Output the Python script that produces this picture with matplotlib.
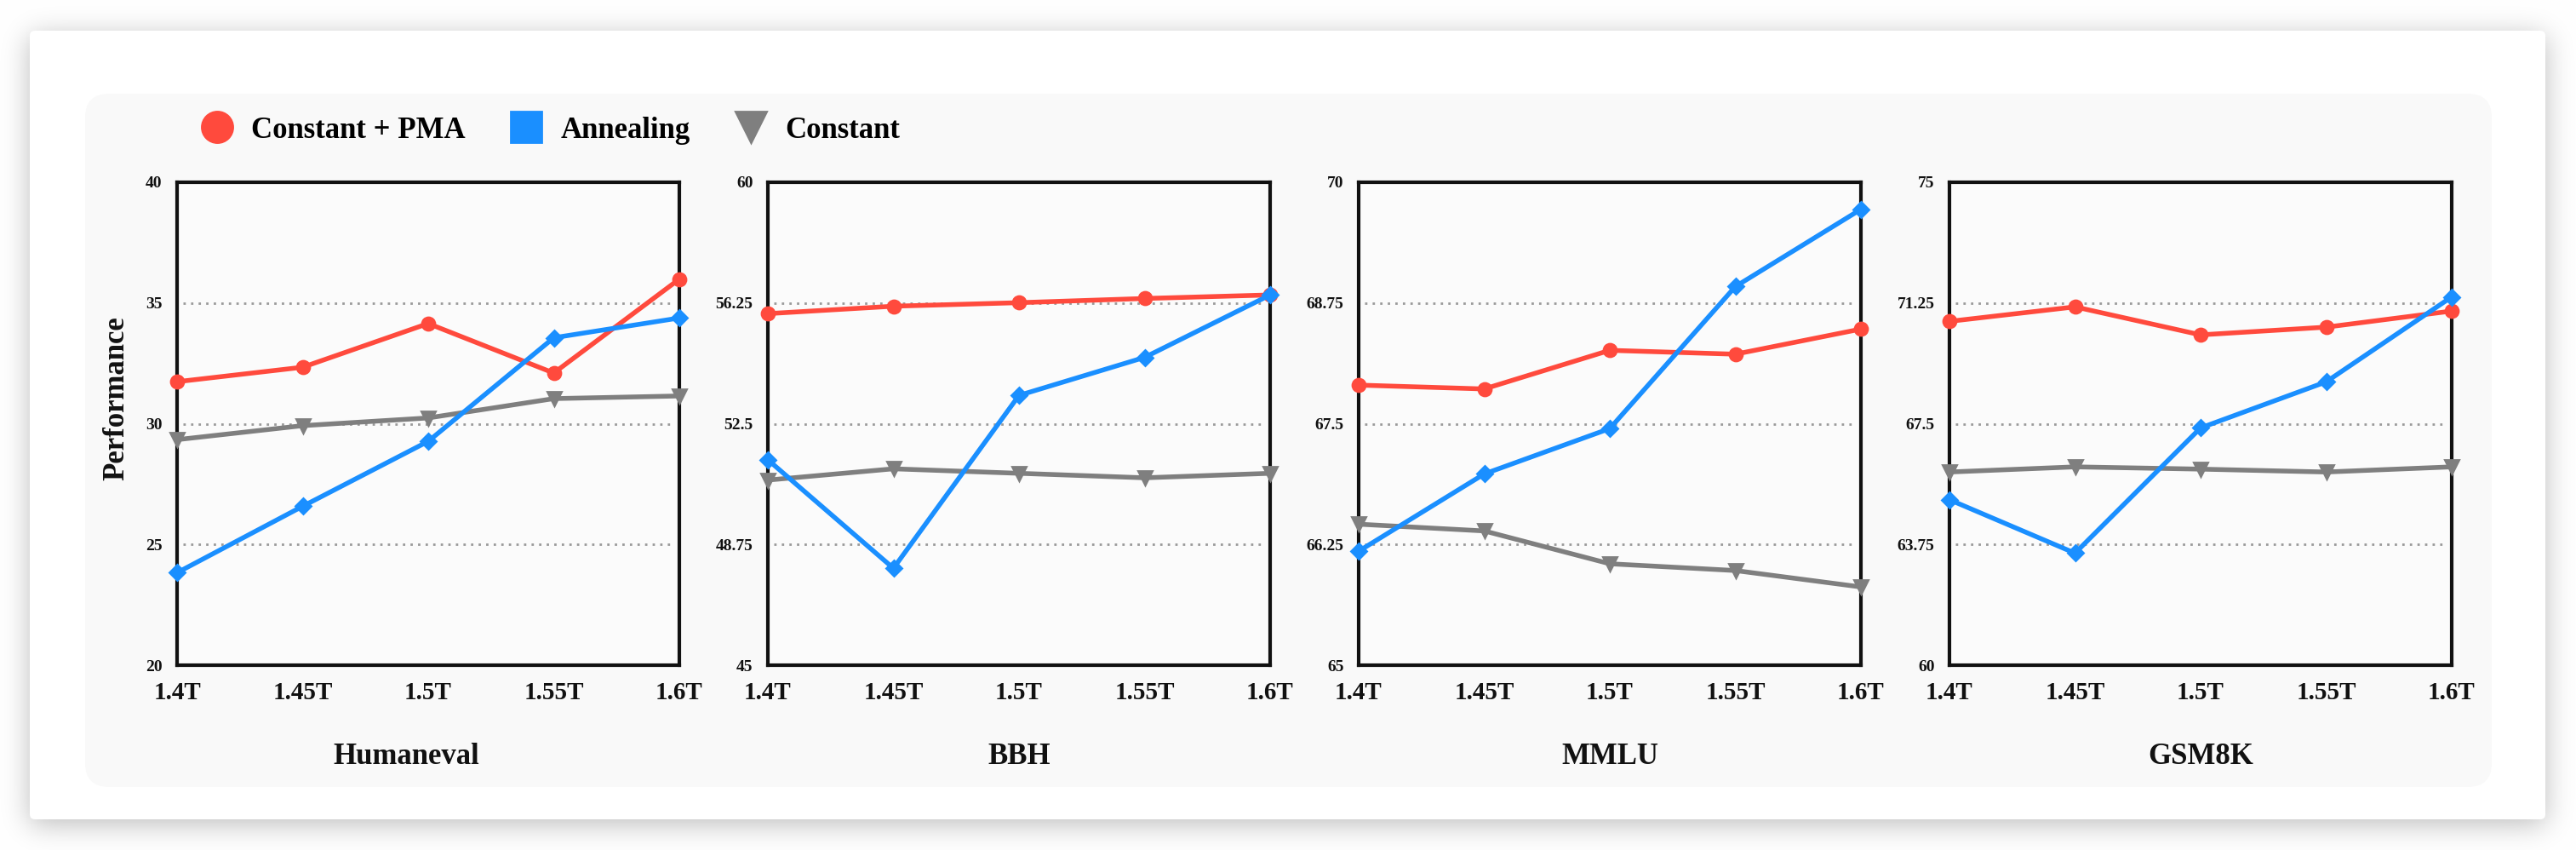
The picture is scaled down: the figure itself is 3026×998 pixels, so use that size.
import math
import numpy as np
import matplotlib
matplotlib.use("Agg")
import matplotlib.pyplot as plt
from matplotlib.patches import FancyBboxPatch
from matplotlib.lines import Line2D
from matplotlib.font_manager import FontProperties

# ---------------- data ----------------
checkpoints = ["1.4T", "1.45T", "1.5T", "1.55T", "1.6T"]
series_names = ["Constant + PMA", "Annealing", "Constant"]
benchmarks = ["Humaneval", "BBH", "MMLU", "GSM8K"]

humaneval_pma = [31.74, 32.34, 34.15, 32.10, 35.99]
humaneval_anneal = [23.83, 26.58, 29.27, 33.56, 34.38]
humaneval_const = [29.34, 29.92, 30.24, 31.04, 31.15]

bbh_pma = [55.92, 56.15, 56.26, 56.39, 56.50]
bbh_anneal = [51.38, 48.01, 53.38, 54.56, 56.50]
bbh_const = [50.75, 51.10, 50.96, 50.82, 50.96]

mmlu_pma = [67.90, 67.86, 68.26, 68.22, 68.48]
mmlu_anneal = [66.18, 66.98, 67.45, 68.92, 69.72]
mmlu_const = [66.46, 66.39, 66.05, 65.98, 65.81]

gsm8k_pma = [70.68, 71.13, 70.26, 70.50, 71.00]
gsm8k_anneal = [65.14, 63.48, 67.37, 68.80, 71.44]
gsm8k_const = [66.00, 66.16, 66.09, 66.00, 66.16]

humaneval_ticks = [20, 25, 30, 35, 40]
bbh_ticks = [45, 48.75, 52.5, 56.25, 60]
mmlu_ticks = [65, 66.25, 67.5, 68.75, 70]
gsm8k_ticks = [60, 63.75, 67.5, 71.25, 75]
humaneval_ticklabels = ["20", "25", "30", "35", "40"]
bbh_ticklabels = ["45", "48.75", "52.5", "56.25", "60"]
mmlu_ticklabels = ["65", "66.25", "67.5", "68.75", "70"]
gsm8k_ticklabels = ["60", "63.75", "67.5", "71.25", "75"]

panels = [
    (humaneval_pma, humaneval_anneal, humaneval_const, humaneval_ticks, humaneval_ticklabels),
    (bbh_pma, bbh_anneal, bbh_const, bbh_ticks, bbh_ticklabels),
    (mmlu_pma, mmlu_anneal, mmlu_const, mmlu_ticks, mmlu_ticklabels),
    (gsm8k_pma, gsm8k_anneal, gsm8k_const, gsm8k_ticks, gsm8k_ticklabels),
]

# ---------------- style ----------------
RED = "#FF4A3D"
BLUE = "#1A8FFF"
GRAY = "#7F7F7F"
TXT = "#111111"
FAM = "Liberation Serif"

W, H = 3026, 998
DPI = 200
fig = plt.figure(figsize=(W / DPI, H / DPI), dpi=DPI, facecolor="white")

# background with soft shadow card
bg = fig.add_axes([0, 0, 1, 1], zorder=-10)
erf = np.vectorize(math.erf)
def blurred_step(coord, a, b, sigma):
    s = math.sqrt(2) * sigma
    return 0.5 * (erf((coord - a) / s) - erf((coord - b) / s))
xs = np.arange(W) + 0.5
ys = np.arange(H) + 0.5
card = (35, 36, 2990, 962)
fx = blurred_step(xs, card[0], card[2], 16)
fy = blurred_step(ys, card[1] + 6, card[3] + 6, 16)
shade = 1 - 0.26 * np.outer(fy, fx)
img = np.dstack([shade, shade, shade])
bg.imshow(img, extent=(0, W, H, 0), interpolation="bilinear", aspect="auto")
bg.add_patch(FancyBboxPatch((card[0], card[1]), card[2] - card[0], card[3] - card[1],
                            boxstyle="round,pad=0,rounding_size=6", fc="white", ec="none"))
bg.add_patch(FancyBboxPatch((100, 110), 2827, 814,
                            boxstyle="round,pad=0,rounding_size=28", fc="#f9f9f9", ec="none"))
bg.set_xlim(0, W)
bg.set_ylim(H, 0)
bg.axis("off")

# panels
lefts = [208, 902, 1596, 2290]
ax_w, ax_top, ax_bot = 590, 214, 781
x = np.arange(len(checkpoints))

label_x = [0.456, 0.5, 0.5, 0.5]

for i, (pma, ann, con, ticks, tlabels) in enumerate(panels):
    ax = fig.add_axes([lefts[i] / W, 1 - ax_bot / H, ax_w / W, (ax_bot - ax_top) / H])
    ax.set_facecolor("#fbfbfb")
    ax.plot(x, con, color=GRAY, lw=2.0, marker="v", ms=5.6, zorder=3, clip_on=False)
    ax.plot(x, pma, color=RED, lw=2.0, marker="o", ms=5.4, zorder=4, clip_on=False)
    ax.plot(x, ann, color=BLUE, lw=2.0, marker="D", ms=4.5, zorder=5, clip_on=False)
    ax.set_xlim(x[0], x[-1])
    ax.set_ylim(ticks[0], ticks[-1])
    for t in ticks[1:-1]:
        ax.axhline(t, xmin=0.012, xmax=0.988, color="#9a9a9a", lw=1.0,
                   ls=(0, (1, 2.2)), zorder=1)
    ax.set_xticks(x)
    ax.set_xticklabels(checkpoints, fontfamily=FAM, fontweight="bold",
                       fontsize=10.5, color=TXT)
    ax.set_yticks(ticks)
    ax.set_yticklabels(tlabels, fontfamily=FAM, fontweight="bold",
                       fontsize=7, color=TXT)
    ax.tick_params(axis="x", length=0, pad=6.8)
    ax.tick_params(axis="y", length=0, pad=6.3)
    for sp in ax.spines.values():
        sp.set_linewidth(1.5)
        sp.set_color("#111111")
    ax.set_xlabel(benchmarks[i], fontfamily=FAM, fontweight="bold",
                  fontsize=12.5, color=TXT)
    ax.xaxis.label.set_va("baseline")
    ax.xaxis.set_label_coords(label_x[i], (ax_bot - 897) / (ax_bot - ax_top))
    if i == 0:
        ax.set_ylabel("Performance", fontfamily=FAM, fontweight="bold",
                      fontsize=12.5, color=TXT)
        ax.yaxis.label.set_va("center")
        ax.yaxis.set_label_coords((137 - 208) / ax_w, (ax_bot - 468) / (ax_bot - ax_top))

# legend
handles = [
    Line2D([0], [0], marker="o", ls="none", color=RED, ms=13),
    Line2D([0], [0], marker="s", ls="none", color=BLUE, ms=13),
    Line2D([0], [0], marker="v", ls="none", color=GRAY, ms=13),
]
fig.legend(handles, series_names, loc="center left",
           bbox_to_anchor=(237.6 / W, 1 - 153 / H), ncol=3, frameon=False,
           handlelength=1.0, handletextpad=0.65, columnspacing=1.57,
           borderpad=0, borderaxespad=0,
           prop=FontProperties(family=FAM, weight="bold", size=12.5))

fig.savefig("out.png", dpi=DPI, facecolor="white")
